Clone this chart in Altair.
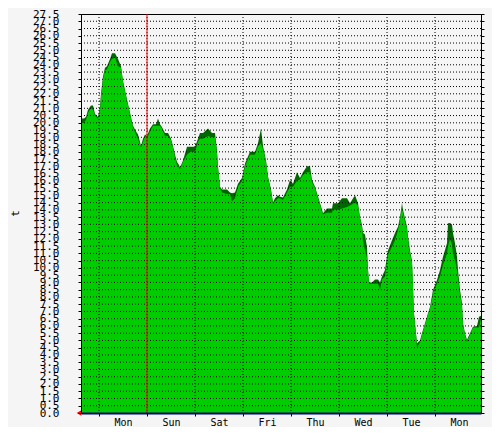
import altair as alt
import pandas as pd

# time in hours from the left edge of the graph
hours = [0, 1.5, 2.5, 3.5, 5, 6, 7, 8.5, 9.5, 10, 11, 12, 13, 14.5, 15.5, 17, 18.5, 20, 21, 23,
         24.5, 26, 27.5, 28.5, 30, 31, 32, 33, 34.5, 36, 37.5, 38.5, 39.5, 40.5, 42, 43.5, 45, 46, 47, 48, 49,
         49.5, 51, 53, 54.5, 57, 58.5, 59.5, 61, 63.5, 65.5, 67, 68, 68.5, 69.5, 70.5, 73, 74.5, 75.5, 77,
         78.5, 80.5, 82, 84.5, 87, 88.5, 90, 91, 92.5, 93.5, 95, 96, 97, 98.5,
         99.5, 101, 103, 104.5, 106, 108, 109.5, 111, 113, 114.5, 115.5, 117, 118, 119, 120.5, 121, 123,
         125.5, 126, 128.5, 130.5, 133, 134.5, 137, 138.5, 139.5, 140.5, 141, 142, 143, 143.5, 144, 145.5,
         147, 148.5,
         149.5, 150.5, 152, 153, 153.5, 155.5, 157, 158.5, 159.5, 160.5, 161, 162, 163, 163.5, 164.5, 165.5,
         166, 166.5, 167.5, 168, 169.5, 170.5, 172, 173.5, 174.5, 176, 178, 179.5, 181, 183, 183.5, 184.5,
         185.5, 186, 187, 188, 188.5, 189.5, 190.5, 191, 192, 193, 193.5, 194.5, 196, 198, 199, 200]

avg_t = [20.0, 20.0, 20.2, 20.7, 21.0, 20.9, 20.5, 20.3, 20.9, 21.8, 23.0, 23.6, 23.7, 24.2, 24.4, 24.5, 23.9, 23.8, 22.8, 21.5,
         20.6, 19.7, 19.2, 18.9, 18.3, 18.7, 19.1, 18.9, 19.4, 19.8, 19.8, 19.8, 19.8, 19.6, 19.1, 19.1, 18.8, 18.3, 17.6, 17.1, 16.9,
         16.8, 17.3, 17.8, 18.0, 18.0, 18.7, 18.9, 18.9, 19.1, 19.0, 19.0, 17.9, 16.8, 15.5, 15.2, 15.1, 15.1, 14.6, 14.8,
         15.6, 16.0, 17.0, 17.8, 17.8, 18.4, 18.6, 18.2, 17.3, 16.2, 15.3, 14.4, 14.6, 14.8,
         14.8, 14.7, 15.2, 15.6, 15.6, 16.0, 16.1, 16.4, 16.6, 16.6, 15.9, 15.5, 15.0, 14.6, 13.9, 13.7, 13.8,
         13.8, 14.0, 14.0, 14.1, 14.2, 14.3, 14.5, 14.3, 13.4, 12.8, 11.8, 11.2, 10.7, 9.8, 8.9, 8.9,
         8.9, 8.9,
         8.5, 9.2, 9.4, 10.5, 10.9, 11.45, 11.9, 12.6, 13.3, 14.2, 13.8, 13.2, 12.7, 12.0, 11.0, 10.4,
         8.6, 6.8, 5.4, 4.5, 4.9, 5.4, 6.1, 6.8, 7.2, 8.3, 8.9, 9.4, 10.2, 11.0, 11.5, 12.0,
         11.6, 11.0, 10.5, 9.9, 9.3, 8.2, 7.3, 6.1, 5.4, 4.9, 5.1, 5.4, 5.9, 5.9, 5.9, 6.5]

max_t = [20.3, 20.3, 20.4, 20.9, 21.2, 21.2, 20.6, 20.4, 21.1, 22.0, 23.2, 23.8, 23.9, 24.4, 24.8, 24.8, 24.4, 23.9, 22.9, 21.6,
         20.7, 19.8, 19.4, 19.2, 18.4, 18.9, 19.2, 19.1, 19.6, 19.9, 19.9, 20.3, 19.9, 19.7, 19.3, 19.3, 18.9, 18.4, 17.8, 17.3, 17.1,
         16.9, 17.4, 18.35, 18.35, 18.35, 18.9, 19.3, 19.3, 19.6, 19.3, 19.3, 18.1, 17.0, 15.6, 15.4, 15.4, 15.2, 15.15, 15.2,
         15.8, 16.2, 17.2, 18.0, 18.0, 18.6, 19.6, 18.4, 17.4, 16.3, 15.4, 14.5, 14.8, 15.0,
         14.9, 14.85, 15.4, 16.06, 15.8, 16.6, 16.2, 16.6, 17.0, 17.0, 16.06, 15.6, 15.14, 14.7, 14.0, 13.76, 14.1,
         14.1, 14.45, 14.45, 14.8, 14.8, 14.45, 15.0, 14.45, 13.5, 12.96, 12.4, 12.3, 11.4, 9.9, 9.0, 9.0,
         9.2, 9.2,
         9.0, 9.4, 9.86, 10.8, 11.2, 11.9, 12.4, 12.84, 13.5, 14.45, 14.0, 13.4, 12.84, 12.15, 11.2, 10.5,
         8.7, 6.87, 5.5, 4.8, 5.0, 5.5, 6.18, 6.87, 7.3, 8.48, 9.17, 9.86, 10.77, 11.7, 13.07, 13.1,
         13.0, 12.4, 11.7, 10.77, 9.86, 8.48, 7.56, 6.18, 5.5, 5.03, 5.2, 5.5, 5.95, 6.0, 6.64, 6.7]

day_names = ["Mon", "Sun", "Sat", "Fri", "Thu", "Wed", "Tue", "Mon"]
day_starts = [9, 33, 57, 81, 105, 129, 153, 177]
y_ticks = [0.0, 0.5, 1.0, 1.5, 2.0, 2.5, 3.0, 3.5, 4.0, 4.5, 5.0, 5.5, 6.0, 6.5, 7.0, 7.5, 8.0, 8.5,
           9.0, 9.5, 10.0, 10.5, 11.0, 11.5, 12.0, 12.5, 13.0, 13.5, 14.0, 14.5, 15.0, 15.5, 16.0, 16.5,
           17.0, 17.5, 18.0, 18.5, 19.0, 19.5, 20.0, 20.5, 21.0, 21.5, 22.0, 22.5, 23.0, 23.5, 24.0, 24.5,
           25.0, 25.5, 26.0, 26.5, 27.0, 27.5]
now_marker = [33]
origin = [0]

df = pd.DataFrame({"h": hours, "avg": avg_t, "max": max_t})
now_df = pd.DataFrame({"h": now_marker})
origin_df = pd.DataFrame({"h": origin, "v": origin})
vgrid_df = pd.DataFrame({"h": day_starts})
hgrid_df = pd.DataFrame({"v": y_ticks[1:-1]})

FONT = "DejaVu Sans Mono"
xscale = alt.Scale(domain=[0, 200], nice=False, zero=False)
yscale = alt.Scale(domain=[0, 27.5], nice=False)

label_expr = ("[" + ",".join("'%s'" % d for d in day_names) + "][indexof(["
              + ",".join(str(v) for v in day_starts) + "], datum.value)]")

xaxis = alt.Axis(values=day_starts, labelExpr=label_expr, labelOffset=24, grid=False,
                 tickSize=3, tickColor="black", domainColor="#000080", domainWidth=2,
                 labelFont=FONT, labelFontSize=10, labelColor="black", labelPadding=1,
                 labelFlush=False, labelOverlap=False, labelBound=False, title=None, zindex=1)

yaxis = alt.Axis(values=y_ticks, format=".1f", grid=False, tickSize=3, tickColor="black",
                 domainColor="black",
                 labelFont=FONT, labelFontSize=11, labelColor="black", labelPadding=19,
                 labelOverlap=False, labelBound=False, labelFlush=False,
                 title="t", titleFont=FONT, titleFontSize=11, titleFontWeight="normal",
                 titleColor="black", titleX=-66, titleY=199, titleAngle=270,
                 titleAlign="center", titleBaseline="middle", zindex=1)

yaxis_right = alt.Axis(orient="right", values=y_ticks, labels=False, grid=False, tickSize=3,
                       tickColor="black", domainColor="black", title=None, zindex=1)

X = alt.X("h:Q", scale=xscale, axis=xaxis)
base = alt.Chart(df)

max_area = base.mark_area(color="#006600", opacity=1).encode(
    x=X,
    y=alt.Y("max:Q", scale=yscale, axis=yaxis),
)
avg_area = base.mark_area(color="#00CC00", opacity=1).encode(
    x=X,
    y=alt.Y("avg:Q", scale=yscale, axis=None),
)
hgrid = alt.Chart(hgrid_df).mark_rule(color="black", strokeWidth=1, strokeDash=[1, 2]).encode(
    y=alt.Y("v:Q", scale=yscale, axis=None),
)
vgrid = alt.Chart(vgrid_df).mark_rule(color="black", strokeWidth=1, strokeDash=[1, 2]).encode(
    x=X,
)
now_rule = alt.Chart(now_df).mark_rule(color="#FF0000", strokeWidth=1).encode(
    x=X,
)
arrow = alt.Chart(origin_df).mark_point(shape="triangle-left", filled=True, color="#FF0000",
                                        size=30, opacity=1, xOffset=-2).encode(
    x=X,
    y=alt.Y("v:Q", scale=yscale, axis=None),
)
right_axis = base.mark_point(opacity=0).encode(
    x=X,
    y=alt.Y("avg:Q", scale=yscale, axis=yaxis_right),
)

chart = alt.layer(max_area, avg_area, hgrid, vgrid, now_rule, arrow, right_axis).resolve_axis(
    y="independent"
).properties(
    width=400, height=399, autosize="none",
    padding={"left": 73, "top": 6, "right": 11, "bottom": 14},
    background="#F5F5F5",
).configure_view(
    stroke="black", strokeWidth=1, fill="#F5F5F5"
)

chart.save("out.html", embed_options={"renderer": "svg", "actions": False})
